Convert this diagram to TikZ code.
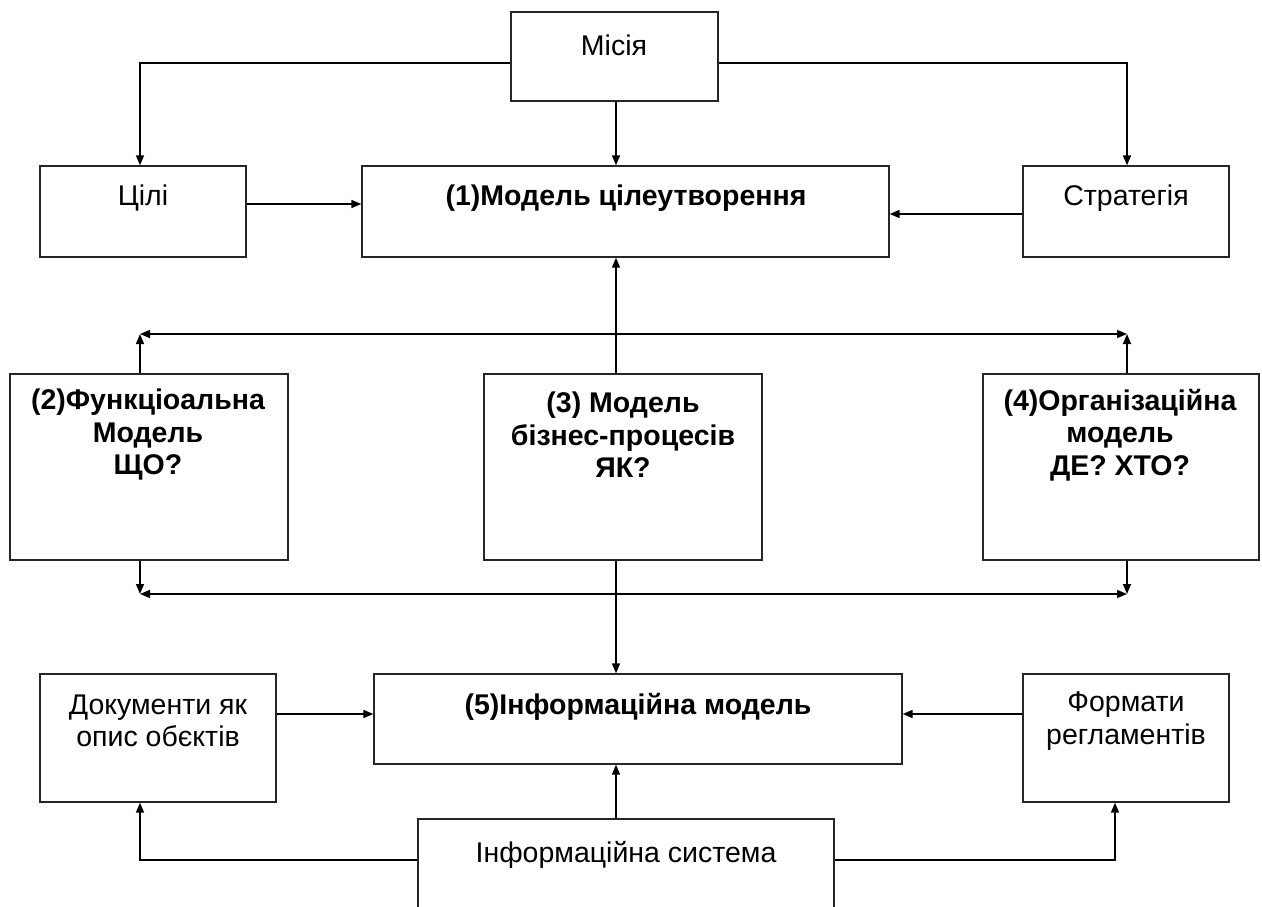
\documentclass[tikz,border=0pt]{standalone}
\usepackage{fontspec}
\setmainfont{Liberation Sans}
\usetikzlibrary{arrows.meta,calc}
\begin{document}
\begin{tikzpicture}[x=1pt,y=-1pt,
  box/.style={draw=black!85,line width=1.3pt,inner sep=0pt},
  txt/.style={inner sep=0pt,align=center,font=\fontsize{28.5}{32.5}\selectfont},
  btxt/.style={txt,font=\fontsize{28.5}{32.5}\selectfont\bfseries},
  conn/.style={line width=1.6pt,-{Triangle[length=10pt,width=8pt]}},
  bus/.style={line width=1.6pt,{Triangle[length=10pt,width=8pt]}-{Triangle[length=10pt,width=8pt]}},
  wire/.style={line width=1.6pt}]
\useasboundingbox (0,0) rectangle (1262,906);

% helper levels for routed connectors
\coordinate (ya) at (0,63);
\coordinate (yb) at (0,204);
\coordinate (yc) at (0,214);
\coordinate (yd) at (0,334);
\coordinate (ye) at (0,594);
\coordinate (yf) at (0,714);
\coordinate (yg) at (0,860);
\coordinate (xl) at (140,0);
\coordinate (xr) at (1127,0);
\coordinate (xc) at (616,0);
\coordinate (xs) at (1115,0);

% boxes
\node[box,minimum width=207pt,minimum height=89pt] (mis) at (614.5,56.5) {};
\node[box,minimum width=206pt,minimum height=91pt] (goals) at (143,211.5) {};
\node[box,minimum width=527pt,minimum height=91pt] (m1) at (625.5,211.5) {};
\node[box,minimum width=206pt,minimum height=91pt] (strat) at (1126,211.5) {};
\node[box,minimum width=278pt,minimum height=186pt] (m2) at (149,467) {};
\node[box,minimum width=278pt,minimum height=186pt] (m3) at (623,467) {};
\node[box,minimum width=276pt,minimum height=186pt] (m4) at (1121,467) {};
\node[box,minimum width=236pt,minimum height=128pt] (docs) at (158,738) {};
\node[box,minimum width=528pt,minimum height=90pt] (m5) at (638,719) {};
\node[box,minimum width=206pt,minimum height=128pt] (fmt) at (1126,738) {};
\node[box,minimum width=416pt,minimum height=131pt] (is) at (626,884.5) {};

% labels
\node[txt] (misT) at (614,45) {Місія};
\node[txt] (goalsT) at (143,198) {Цілі};
\node[btxt] (m1T) at (626,198) {(1)Модель цілеутворення};
\node[txt] (stratT) at (1126,198) {Стратегія};
\node[btxt] (m2T) at (148,435) {(2)Функціоальна\\Модель\\ЩО?};
\node[btxt] (m3T) at (623,435) {(3) Модель\\бізнес-процесів\\ЯК?};
\node[btxt] (m4T) at (1120,435) {(4)Організаційна\\модель\\ДЕ? ХТО?};
\node[txt] (docsT) at (158,721) {Документи як\\опис обєктів};
\node[btxt] (m5T) at (638,707) {(5)Інформаційна модель};
\node[txt] (fmtT) at (1126,721) {Формати\\регламентів};
\node[txt] (isT) at (626,855) {Інформаційна система};

% mission level
\draw[conn] (mis.west |- ya) -| (goals.north -| xl);
\draw[conn] (mis.east |- ya) -| (strat.north -| xr);
\draw[conn] (mis.south -| xc) -- (m1.north -| xc);
\draw[conn] (goals.east |- yb) -- (m1.west |- yb);
\draw[conn] (strat.west |- yc) -- (m1.east |- yc);

% model layer
\draw[conn] (m3.north -| xc) -- (m1.south -| xc);
\draw[bus] (xl |- yd) -- (xr |- yd);
\draw[conn] (m2.north -| xl) -- (xl |- yd);
\draw[conn] (m4.north -| xr) -- (xr |- yd);
\draw[bus] (xl |- ye) -- (xr |- ye);
\draw[conn] (m2.south -| xl) -- (xl |- ye);
\draw[conn] (m4.south -| xr) -- (xr |- ye);
\draw[conn] (m3.south -| xc) -- (m5.north -| xc);

% information layer
\draw[conn] (docs.east |- yf) -- (m5.west |- yf);
\draw[conn] (fmt.west |- yf) -- (m5.east |- yf);
\draw[conn] (is.north -| xc) -- (m5.south -| xc);
\draw[conn] (is.west |- yg) -| (docs.south -| xl);
\draw[conn] (is.east |- yg) -| (fmt.south -| xs);
\end{tikzpicture}
\end{document}
